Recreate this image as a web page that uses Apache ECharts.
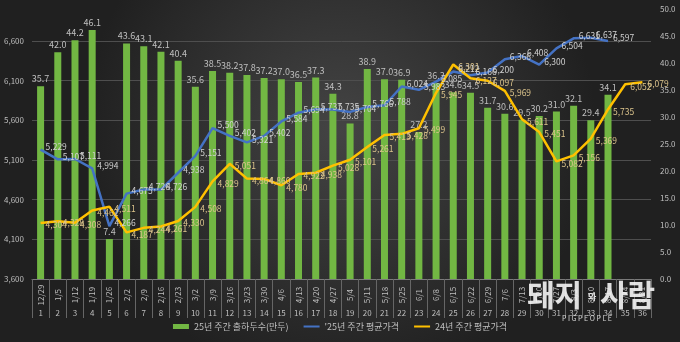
<!DOCTYPE html>
<html><head><meta charset="utf-8">
<script src="https://cdn.jsdelivr.net/npm/echarts@6/dist/echarts.min.js"></script>
<style>html,body{margin:0;padding:0;background:#2a2a2a}#c{width:680px;height:342px}</style>
</head><body><div id="c"></div>
<script>
const dates = ['12/29','1/5','1/12','1/19','1/26','2/2','2/9','2/16','2/23','3/2','3/9','3/16','3/23','3/30','4/6','4/13','4/20','4/27','5/4','5/11','5/18','5/25','6/1','6/8','6/15','6/22','6/29','7/6','7/13','7/20','7/27','8/3','8/10','8/17','8/24','8/31'];
const weeks = ['1','2','3','4','5','6','7','8','9','10','11','12','13','14','15','16','17','18','19','20','21','22','23','24','25','26','27','28','29','30','31','32','33','34','35','36'];
const shipments25 = [35.7,42.0,44.2,46.1,7.4,43.6,43.1,42.1,40.4,35.6,38.5,38.2,37.8,37.2,37.0,36.5,37.3,34.3,28.8,38.9,37.0,36.9,27.2,36.3,34.6,34.5,31.7,30.6,29.5,30.2,31.0,32.1,29.4,34.1];
const price25 = [5229,5107,5111,4994,4266,4675,4726,4726,4938,5151,5500,5402,5321,5402,5584,5694,5737,5735,5704,5766,5788,6024,5983,6085,6212,6166,6200,6366,6408,6300,6504,6631,6637,6597];
const price24 = [4304,4328,4308,4462,4511,4187,4244,4261,4330,4508,4829,5051,4864,4860,4780,4922,4938,5028,5101,5261,5413,5428,5499,5945,6301,6127,6097,5969,5611,5451,5082,5156,5369,5735,6052,6079];
const seriesNames = ['25년 주간 출하두수(만두)', "'25년 주간 평균가격", '24년 주간 평균가격'];

const FONT = '"Noto Sans CJK KR", "Noto Sans", sans-serif';
const fmt = v => Number(v).toLocaleString('en-US');
const chart = echarts.init(document.getElementById('c'), null, {renderer: 'canvas'});
chart.setOption({
  animation: false,
  textStyle: {fontFamily: FONT},
  backgroundColor: {type: 'radial', x: 0.5, y: 0.38, r: 0.75,
    colorStops: [{offset: 0, color: '#444444'}, {offset: 1, color: '#202020'}]},
  grid: {left: 32, right: 29, top: 9, bottom: 63},
  legend: {
    bottom: 6, itemGap: 14, itemWidth: 16, itemHeight: 5,
    textStyle: {color: '#bfbfbf', fontSize: 9, fontFamily: FONT},
    data: [
      {name: seriesNames[0], icon: 'rect'},
      {name: seriesNames[1], itemStyle: {opacity: 0}},
      {name: seriesNames[2], itemStyle: {opacity: 0}}
    ]
  },
  xAxis: [
    {type: 'category', data: dates, position: 'bottom', boundaryGap: true,
     axisLine: {show: true, lineStyle: {color: '#7a7a7a', width: 1}},
     axisTick: {show: true, length: 39, interval: 0, lineStyle: {color: '#666666'}},
     axisLabel: {interval: 0, rotate: 90, align: 'center', verticalAlign: 'middle', margin: 16,
       fontSize: 8, color: '#bfbfbf', fontFamily: FONT},
     splitLine: {show: false}},
    {type: 'category', data: weeks, position: 'bottom', boundaryGap: true,
     axisLine: {show: false}, axisTick: {show: false},
     axisLabel: {interval: 0, margin: 30, fontSize: 8, color: '#bfbfbf', fontFamily: FONT},
     splitLine: {show: false}}
  ],
  yAxis: [
    {type: 'value', min: 3600, max: 7000, interval: 500, position: 'left',
     axisLine: {show: false}, axisTick: {show: false},
     axisLabel: {fontSize: 8, color: '#bfbfbf', margin: 8,
       formatter: v => v > 6600 ? '' : fmt(v)},
     splitLine: {show: true, showMaxLine: false, showMinLine: false, lineStyle: {color: '#4e4e4e', width: 1}}},
    {type: 'value', min: 0, max: 50, interval: 5, position: 'right',
     axisLine: {show: false}, axisTick: {show: false},
     axisLabel: {fontSize: 8, color: '#bfbfbf', margin: 9, formatter: v => v.toFixed(1)},
     splitLine: {show: false}}
  ],
  series: [
    {name: seriesNames[0], type: 'bar', xAxisIndex: 0, yAxisIndex: 1, data: shipments25,
     barWidth: 7, itemStyle: {color: '#72b743'},
     label: {show: true, position: 'top', distance: 3, color: '#bfbfbf', fontSize: 9,
       formatter: p => p.value.toFixed(1)}},
    {name: seriesNames[1], type: 'line', xAxisIndex: 0, yAxisIndex: 0, data: price25,
     symbol: 'circle', symbolSize: 0.01, showSymbol: true,
     lineStyle: {color: '#4472c4', width: 2.5}, itemStyle: {color: '#4472c4'},
     label: {show: true, position: 'right', distance: 5, offset: [0, -3], color: '#d0d0d0', fontSize: 8.5,
       formatter: p => fmt(p.value)}},
    {name: seriesNames[2], type: 'line', xAxisIndex: 0, yAxisIndex: 0, data: price24,
     symbol: 'circle', symbolSize: 0.01, showSymbol: true,
     lineStyle: {color: '#ffc000', width: 2.5}, itemStyle: {color: '#ffc000'},
     label: {show: true, position: 'right', distance: 5, offset: [0, 2], color: '#dcc48c', fontSize: 8.5,
       formatter: p => fmt(p.value)}}
  ],
  graphic: [
    {type: 'text', left: 527, top: 280, z: 100,
     style: {text: '돼지', font: 'bold 30px ' + FONT, fill: 'rgba(245,245,245,0.9)'}},
    {type: 'text', left: 588, top: 292, z: 100,
     style: {text: '와', font: 'bold 9px ' + FONT, fill: 'rgba(245,245,245,0.9)'}},
    {type: 'text', left: 600, top: 280, z: 100,
     style: {text: '사람', font: 'bold 30px ' + FONT, fill: 'rgba(245,245,245,0.9)'}},
    {type: 'text', left: 562, top: 315, z: 100,
     style: {text: 'P I G P E O P L E', font: '7px ' + FONT, fill: 'rgba(240,240,240,0.85)'}}
  ]
});
</script></body></html>
